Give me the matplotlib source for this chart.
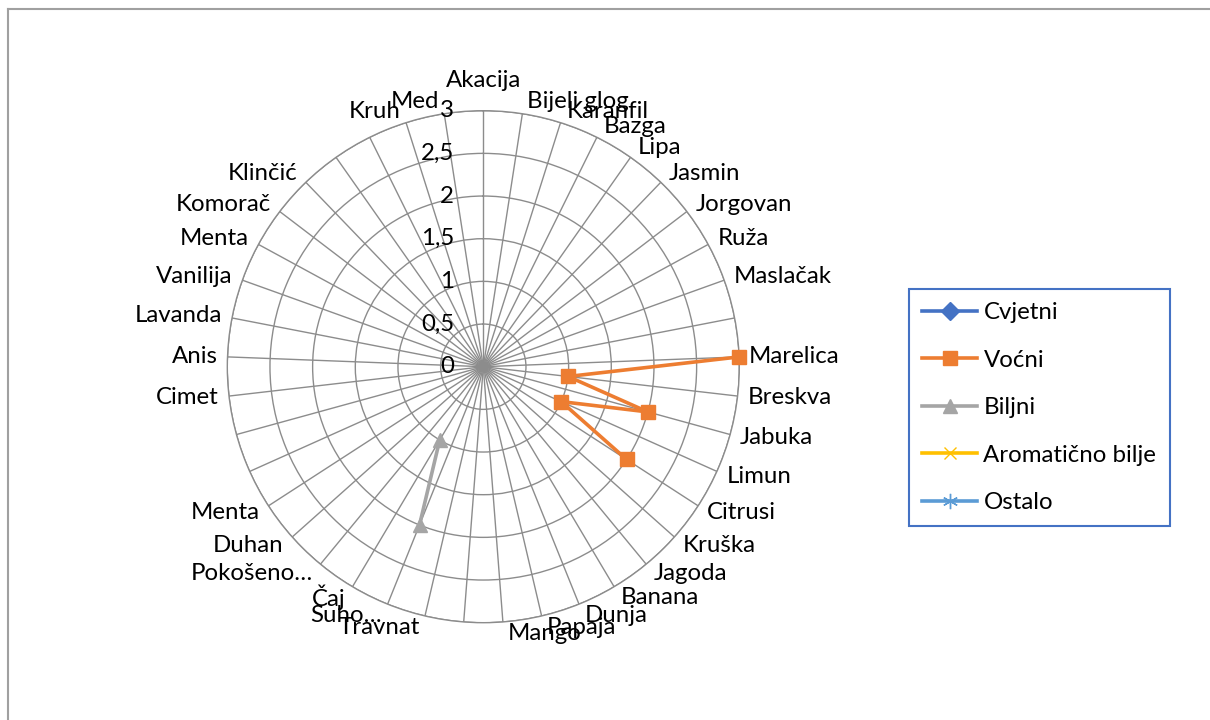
import numpy as np
import matplotlib
matplotlib.use('Agg')
import matplotlib.pyplot as plt
from matplotlib.lines import Line2D

plt.rcParams['font.family'] = ['Lato', 'DejaVu Sans']

# Categories (empty ones are separators with hidden labels)
CATEGORIES = ['Akacija', 'Bijeli glog', 'Karanfil', 'Bazga', 'Lipa', 'Jasmin',
              'Jorgovan', 'Ruža', 'Maslačak', '',
              'Marelica', 'Breskva', 'Jabuka', 'Limun', 'Citrusi', 'Kruška',
              'Jagoda', 'Banana', 'Dunja', 'Papaja', 'Mango', '',
              'Travnat', 'Suho…', 'Čaj', 'Pokošeno…', 'Duhan', 'Menta', '', '',
              'Cimet', 'Anis', 'Lavanda', 'Vanilija', 'Menta', 'Komorač',
              'Klinčić', '', '',
              'Kruh', 'Med']

N = len(CATEGORIES)
nan = np.nan

CVJETNI = [nan] * N
VOCNI = [nan] * 10 + [3, 1, 2, 1, 2] + [nan] * (N - 15)
BILJNI = [nan] * 23 + [2, 1] + [nan] * (N - 25)
AROMATICNO = [nan] * N
OSTALO = [nan] * N

SERIES = ['Cvjetni', 'Voćni', 'Biljni', 'Aromatično bilje', 'Ostalo']
COLORS = ['#4472C4', '#ED7D31', '#A5A5A5', '#FFC000', '#5B9BD5']
MARKERS = ['D', 's', '^', 'x', (6, 2, 0)]

R_TICKS = [0, 0.5, 1, 1.5, 2, 2.5, 3]
R_LABELS = ['0', '0,5', '1', '1,5', '2', '2,5', '3']

FS = 17.3
GRID = '#8C8C8C'


def main():
    fig = plt.figure(figsize=(12.1, 7.2), dpi=100)
    W, H = 1210, 720
    cx, cy, rad = 483.3, 366.7, 256
    ax = fig.add_axes([(cx - rad) / W, (H - cy - rad) / H, 2 * rad / W, 2 * rad / H],
                      projection='polar')
    ax.set_theta_zero_location('N')
    ax.set_theta_direction(-1)

    theta = np.arange(N) * 2 * np.pi / N

    ax.set_ylim(0, 3)
    ax.set_xticks(theta)
    ax.set_xticklabels([])
    ax.set_yticks(R_TICKS[1:])
    ax.set_yticklabels([])
    ax.grid(True, color=GRID, lw=1)
    ax.spines['polar'].set_color(GRID)
    ax.spines['polar'].set_linewidth(1)
    ax.tick_params(length=0)

    data = [CVJETNI, VOCNI, BILJNI, AROMATICNO, OSTALO]
    sizes = [9, 9.5, 10, 9, 11]
    for name, vals, col, mk, ms in zip(SERIES, data, COLORS, MARKERS, sizes):
        ax.plot(theta, vals, color=col, lw=2.6, marker=mk, markersize=ms,
                label=name, clip_on=False, zorder=5)

    # category labels
    for lab, th in zip(CATEGORIES, theta):
        if not lab:
            continue
        s, c = np.sin(th), np.cos(th)
        if s > 0.05:
            ha, dx = 'left', 4 + 6 * abs(s)
        elif s < -0.05:
            ha, dx = 'right', -(4 + 6 * abs(s))
        else:
            ha, dx = 'center', 0
        dy = c * 12
        if ha == 'center' and c > 0:
            dy += 18
        ax.annotate(lab, xy=(th, 3), xytext=(dx, dy), textcoords='offset pixels',
                    ha=ha, va='center', fontsize=FS, annotation_clip=False)

    # value axis labels
    for r, lab in zip(R_TICKS, R_LABELS):
        ax.annotate(lab, xy=(0, r), xytext=(-29, 0), textcoords='offset pixels',
                    ha='right', va='center', fontsize=FS, annotation_clip=False)

    # legend
    leg = fig.legend(loc='upper left', bbox_to_anchor=(909 / W, 1 - 289 / H),
                     fontsize=FS, frameon=True, fancybox=False, framealpha=1,
                     handlelength=2.3, handletextpad=0.25, labelspacing=1.1,
                     borderpad=0.55, borderaxespad=0)
    leg.get_frame().set_edgecolor('#4472C4')
    leg.get_frame().set_linewidth(1.5)

    # chart area border (top and left only visible)
    fig.add_artist(Line2D([7.5 / W, 7.5 / W], [0, 1 - 9 / H], color='#A0A0A0', lw=1.5))
    fig.add_artist(Line2D([7.5 / W, 1], [1 - 9 / H, 1 - 9 / H], color='#A0A0A0', lw=1.5))

    fig.savefig('out.png', dpi=100)
    plt.close(fig)


if __name__ == '__main__':
    main()
